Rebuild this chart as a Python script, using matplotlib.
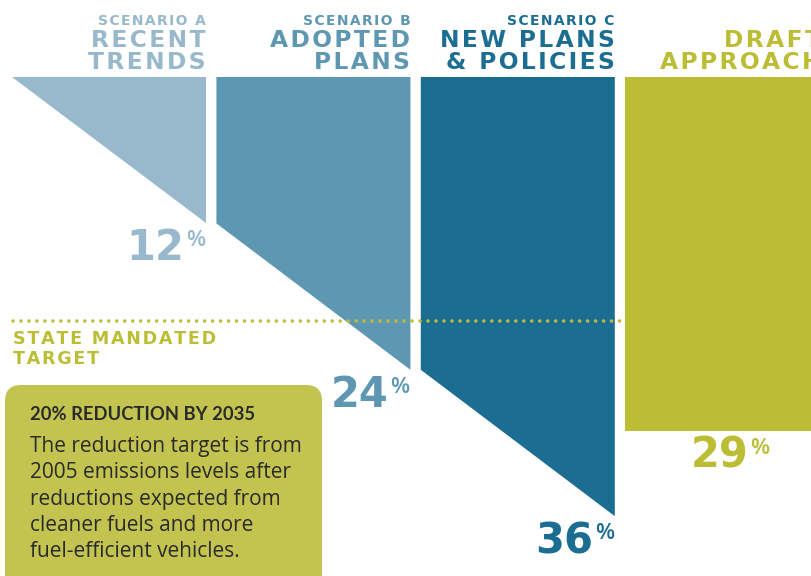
import matplotlib
matplotlib.use("Agg")
import matplotlib.pyplot as plt
from matplotlib.patches import Polygon, FancyBboxPatch
from matplotlib.transforms import IdentityTransform

# ---- data -------------------------------------------------------------
scenario_tags = ["SCENARIO A", "SCENARIO B", "SCENARIO C", ""]
scenario_names = [["RECENT", "TRENDS"],
                  ["ADOPTED", "PLANS"],
                  ["NEW PLANS", "& POLICIES"],
                  ["DRAFT", "APPROACH"]]
reductions = [12, 24, 36, 29]          # % GHG reduction per scenario
stepped = [True, True, True, False]    # scenarios build on the previous one
colors = ["#98B9CB", "#5E97B2", "#1B6D91", "#BBBE34"]

target = 20
target_label = ["STATE MANDATED", "TARGET"]
target_color = "#BBBE34"

note_title = "20% REDUCTION BY 2035"
note_lines = ["The reduction target is from",
              "2005 emissions levels after",
              "reductions expected from",
              "cleaner fuels and more",
              "fuel-efficient vehicles."]
note_bg = "#C3C44F"
note_fg = "#2A2A2A"

# ---- layout -----------------------------------------------------------
W, H, DPI = 812, 576, 100
top_px = 77          # pixel row of the 0% line
px_per_pct = 12.2    # vertical scale
x_start, pitch, width = 12, 204.4, 194

HEAD = "DejaVu Sans"
BODY = "Open Sans"
HAIR = "\u200a"


def tracked(s):
    """Widen letter spacing with hair spaces."""
    return HAIR.join(s)


fig = plt.figure(figsize=(W / DPI, H / DPI), dpi=DPI)
ax = fig.add_axes([0, 0, 1, 1])
ax.set_xlim(0, W)
ax.set_ylim((H - top_px) / px_per_pct, -top_px / px_per_pct)
ax.axis("off")

prev = 0
for i, (val, col) in enumerate(zip(reductions, colors)):
    x0 = x_start + i * pitch
    x1 = x0 + width
    left = prev if stepped[i] else val
    ax.add_patch(Polygon([(x0, 0), (x1, 0), (x1, val), (x0, left)],
                         closed=True, facecolor=col, edgecolor="none", zorder=1))
    prev = val

    # value label under the lower corner
    lx = x1 if stepped[i] else x0 + 145
    ax.annotate(f"{val}", xy=(lx, val), xytext=(-22, -4), textcoords="offset pixels",
                ha="right", va="top", fontsize=30, fontweight="bold",
                family=HEAD, color=col, zorder=3)
    ax.annotate("%", xy=(lx, val), xytext=(-20, -7), textcoords="offset pixels",
                ha="left", va="top", fontsize=16, fontweight="semibold",
                family=BODY, color=col, zorder=3)

    # headings
    tx = x1 if i < 3 else x1 + 2
    if scenario_tags[i]:
        ax.annotate(tracked(scenario_tags[i]),
                    xy=(tx, H - 25), xycoords=("data", "figure pixels"),
                    ha="right", va="baseline", fontsize=10, fontweight="bold",
                    family=HEAD, color=col, annotation_clip=False)
    for j, name in enumerate(scenario_names[i]):
        ax.annotate(tracked(name), xy=(tx, H - 47 - 22 * j),
                    xycoords=("data", "figure pixels"),
                    ha="right", va="baseline", fontsize=16.8, fontweight="bold",
                    family=HEAD, color=col, annotation_clip=False)

# state target dotted line
ax.plot([13, x_start + 3 * pitch - 1], [target, target], color=target_color,
        linewidth=2.6, linestyle=(0, (0.01, 2.2)), dash_capstyle="round", zorder=2)
for j, t in enumerate(target_label):
    ax.annotate(tracked(t), xy=(13, target), xytext=(0, -23 - 20 * j),
                textcoords="offset pixels", ha="left", va="baseline",
                fontsize=12.6, fontweight="bold", family=HEAD, color=target_color)

# note box
box = FancyBboxPatch((5, -40), 317, H - 385 + 40,
                     boxstyle="round,pad=0,rounding_size=16",
                     facecolor=note_bg, edgecolor="none",
                     transform=IdentityTransform(), zorder=1)
fig.add_artist(box)
fig.text(30 / W, (H - 420) / H, note_title, ha="left", va="baseline",
         fontsize=13.2, fontweight="bold", family="Lato", color=note_fg)
for j, line in enumerate(note_lines):
    fig.text(30 / W, (H - 452 - 26.3 * j) / H, line, ha="left", va="baseline",
             fontsize=15, family=BODY, color=note_fg)

fig.savefig("out.png", dpi=DPI, facecolor="white")
